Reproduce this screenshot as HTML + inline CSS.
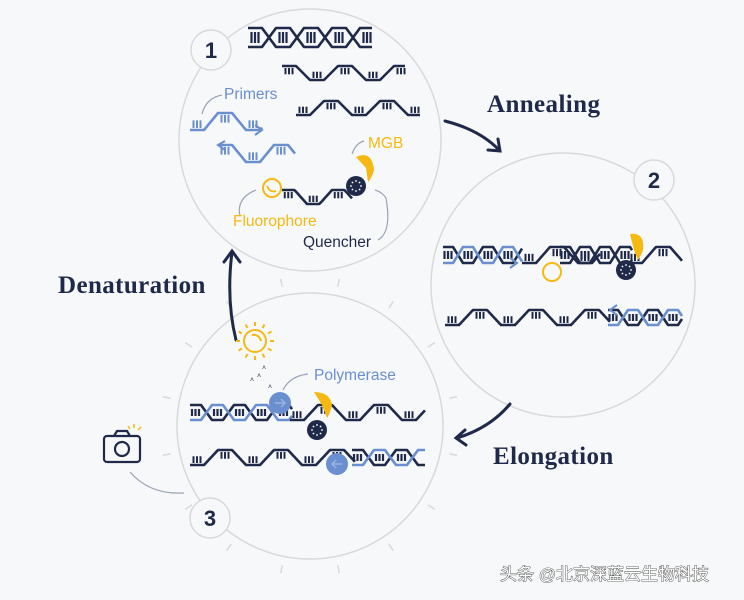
<!DOCTYPE html>
<html><head><meta charset="utf-8"><style>
html,body{margin:0;padding:0;background:#f7f8f9;}
body{width:744px;height:600px;overflow:hidden;position:relative;}
svg{position:absolute;left:0;top:0;}
.l{font-family:"Liberation Sans",sans-serif;font-size:15.5px;}
.s{font-family:"Liberation Serif",serif;font-size:25px;font-weight:bold;fill:#1f2a4a;letter-spacing:0.4px;}
.n{font-family:"Liberation Sans",sans-serif;font-size:22px;font-weight:bold;fill:#1f2a4a;}
</style></head><body>
<svg width="744" height="600" viewBox="0 0 744 600">
<g fill="none" stroke="#d8d9dc" stroke-width="1.5">
<circle cx="310" cy="140" r="131"/>
<circle cx="563" cy="285" r="132"/>
<circle cx="310" cy="426" r="133"/>
</g>
<g id="ticks" stroke="#d8d9dc" stroke-width="1.5"></g>
<g id="dna"></g>
<g fill="#f7f8f9" stroke="#d8d9dc" stroke-width="1.5">
<circle cx="211" cy="50" r="20"/><circle cx="654" cy="180" r="20"/><circle cx="210" cy="518" r="20"/>
</g>
<text class="n" x="211" y="58" text-anchor="middle">1</text>
<text class="n" x="654" y="188" text-anchor="middle">2</text>
<text class="n" x="210" y="526" text-anchor="middle">3</text>
<g fill="none" stroke="#1f2a4a" stroke-width="3" stroke-linecap="round">
<path d="M445 121 Q480 130 499 150"/><path d="M488 150 L500 151 L498 139"/>
<path d="M510 404 Q490 428 457 438"/><path d="M465 430 L456 438 L466 445"/>
<path d="M236 340 Q226 300 232 252"/><path d="M224 262 L232 251 L240 262"/>
</g>
<text class="s" x="487" y="112">Annealing</text>
<text class="s" x="493" y="464">Elongation</text>
<text class="s" x="58" y="293">Denaturation</text>
<g fill="none" stroke="#9aa3b5" stroke-width="1.2">
<path d="M202 114 Q206 98 222 95"/>
<path d="M352 154 Q356 143 364 141"/>
<path d="M240 216 Q236 198 256 190"/>
<path d="M378 240 Q392 232 386 198 Q382 192 375 190"/>
<path d="M283 390 Q290 376 308 374"/>
<path d="M130 472 Q150 495 184 493"/>
</g>
<text class="l" x="224" y="99" fill="#6a8fd0">Primers</text>
<text class="l" x="368" y="148" fill="#f5b912">MGB</text>
<text class="l" x="233" y="226" fill="#f5b912">Fluorophore</text>
<text class="l" x="303" y="247" fill="#1f2a4a">Quencher</text>
<text class="l" x="314" y="380" fill="#6a8fd0">Polymerase</text>
<g fill="none" stroke="#1f2a4a" stroke-width="2.2">
<rect x="104" y="436" width="36" height="26" rx="3"/>
<circle cx="122" cy="449" r="7"/>
<path d="M114 436 L117 431 L127 431 L130 436"/>
</g>
<g stroke="#f5b912" stroke-width="1.5"><path d="M134 428 l0 -4 M138 430 l3 -3 M130 429 l-2 -3"/></g>
<g stroke="#f5b912" stroke-width="2" fill="none">
<circle cx="255" cy="341" r="11"/>
<path d="M252 335 Q259 334 261 341"/>
<g id="rays"></g>
</g>
<g fill="#1f2a4a" font-size="7" font-family="Liberation Sans"><text x="250" y="382">˄</text><text x="257" y="378">˄</text><text x="262" y="370">˄</text><text x="268" y="389">˄</text></g>
<text x="500" y="580" font-family="'Liberation Sans','Noto Sans CJK SC',sans-serif" font-size="17" fill="#fff" stroke="#333" stroke-width="0.8" paint-order="stroke">头条 @北京深蓝云生物科技</text>
</svg>
<script>
var NS="http://www.w3.org/2000/svg",D=document.getElementById("dna");
function el(t,a,p){var e=document.createElementNS(NS,t);for(var k in a)e.setAttribute(k,a[k]);(p||D).appendChild(e);return e;}
var NAVY="#1f2a4a",BLUE="#6a8fd0",YEL="#f5b912";
function wave(x,x0,yT,yB,ph,P){var t=((x-x0)/P+ph)%1;if(t<0)t+=1;
 if(t<0.25)return yT; if(t<0.5)return yT+(yB-yT)*(t-0.25)/0.25; if(t<0.75)return yB; return yB-(yB-yT)*(t-0.75)/0.25;}
function strand(x0,x1,yT,yB,ph,P,col,rungs){P=P||56;var d="";for(var x=x0;x<=x1;x+=1){d+=(x==x0?"M":"L")+x+" "+wave(x,x0,yT,yB,ph,P).toFixed(1);}
 el("path",{d:d,fill:"none",stroke:col,"stroke-width":2.6,"stroke-linejoin":"round"});
 if(rungs!==false){
  for(var k=-2;k<40;k++){var c=x0+(k*0.5+0.125)*P - ph*P; if(c<x0+4||c>x1-4)continue;
   var y=wave(c,x0,yT,yB,ph,P);var up=(Math.abs(y-yB)<0.5);var len=(yB-yT)*0.45;
   for(var j=-1;j<=1;j++){var xx=c+j*3.5;el("line",{x1:xx,x2:xx,y1:up?y-2:y+2,y2:up?y-2-len:y+2+len,stroke:col,"stroke-width":2});}}}}
function helix(x0,x1,yT,yB,c1,c2,P){P=P||56;strand(x0,x1,yT,yB,0,P,c1,false);strand(x0,x1,yT,yB,0.5,P,c2,false);
 for(var k=0;k<40;k++){var c=x0+(k*0.5+0.125)*P;if(c>x1-3)break;for(var j=-1;j<=1;j++){var xx=c+j*3.5;el("line",{x1:xx,x2:xx,y1:yT+4,y2:yB-4,stroke:c1,"stroke-width":2.2});}}}
helix(248,372,28,47,NAVY,NAVY,56);
strand(282,405,66,80,0,56,NAVY);
strand(296,420,101,115,0.5,56,NAVY);
strand(190,262,113,130,0.5,56,BLUE);
el("path",{d:"M255 125 L262 130 L255 135",fill:"none",stroke:BLUE,"stroke-width":2});
strand(218,295,145,162,0,56,BLUE);
el("path",{d:"M225 141 L218 145 L225 150",fill:"none",stroke:BLUE,"stroke-width":2});
strand(282,352,190,204,0,50,NAVY);
el("circle",{cx:272,cy:188,r:9,fill:"none",stroke:YEL,"stroke-width":2});
el("path",{d:"M267 186 Q270 193 276 191",fill:"none",stroke:YEL,"stroke-width":1.8});
el("path",{d:"M356 157 Q372 150 374 170 Q372 178 368 182 L366 168 Z",fill:YEL});
el("circle",{cx:356,cy:186,r:10,fill:NAVY});
helix(443,522,247,263,NAVY,BLUE,40);
strand(522,600,247,263,0.5,56,NAVY);
helix(560,632,247,263,NAVY,NAVY,40);
strand(628,682,247,263,0.5,56,NAVY);
el("path",{d:"M510 258 L517 263 L510 268",fill:"none",stroke:BLUE,"stroke-width":2});
el("circle",{cx:552,cy:272,r:9,fill:"none",stroke:YEL,"stroke-width":2});
el("path",{d:"M630 234 Q645 232 643 250 Q641 256 638 260 L634 250 Z",fill:YEL});
el("circle",{cx:626,cy:270,r:10,fill:NAVY});
strand(445,610,310,325,0.5,56,NAVY);
helix(608,682,310,325,NAVY,BLUE,40);
el("path",{d:"M617 305 L610 310 L617 315",fill:"none",stroke:BLUE,"stroke-width":2});
helix(190,292,405,420,NAVY,BLUE,44);
strand(290,425,405,420,0.5,56,NAVY);
strand(190,355,450,465,0.5,56,NAVY);
helix(352,425,450,465,NAVY,BLUE,44);
el("circle",{cx:280,cy:403,r:11,fill:BLUE});
el("path",{d:"M275 403 L285 403 M281 399 L285 403 L281 407",fill:"none",stroke:"#9bb3e0","stroke-width":1.5});
el("path",{d:"M314 392 Q330 392 332 405 Q330 414 327 418 L322 405 Z",fill:YEL});
el("circle",{cx:317,cy:430,r:10,fill:NAVY});
el("circle",{cx:337,cy:464,r:11,fill:BLUE});
el("path",{d:"M342 464 L332 464 M336 460 L332 464 L336 468",fill:"none",stroke:"#9bb3e0","stroke-width":1.5});
[[356,186],[626,270],[317,430]].forEach(function(p){for(var i=0;i<8;i++){var a=i*Math.PI/4;el("circle",{cx:p[0]+5*Math.cos(a),cy:p[1]+5*Math.sin(a),r:0.9,fill:"#fff"});}});
var T=document.getElementById("ticks");
for(var i=0;i<16;i++){var a=i*Math.PI/8+Math.PI/16;var c=Math.cos(a),s=Math.sin(a);
 el("line",{x1:310+142*c,y1:426+142*s,x2:310+150*c,y2:426+150*s},T);}
var R=document.getElementById("rays");
for(var i=0;i<12;i++){var a=i*Math.PI/6;el("line",{x1:255+15*Math.cos(a),y1:341+15*Math.sin(a),x2:255+19*Math.cos(a),y2:341+19*Math.sin(a)},R);}
</script>
</body></html>
